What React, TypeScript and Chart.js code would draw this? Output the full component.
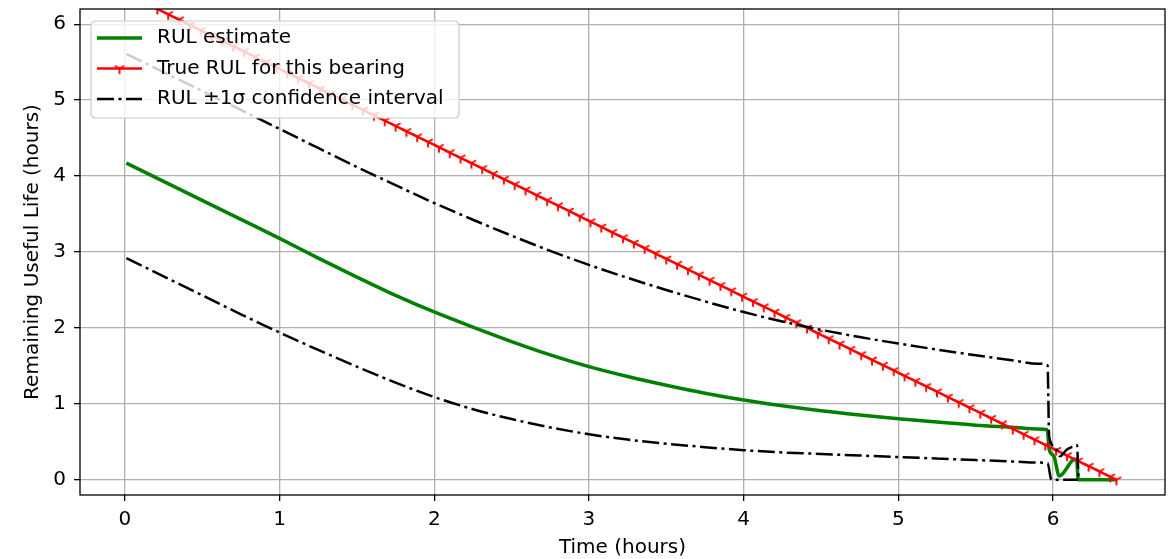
import React, { useEffect, useRef } from 'react';
import { Chart, registerables } from 'chart.js';

Chart.register(...registerables);

// ---------- data ----------
const xTicks = [0, 1, 2, 3, 4, 5, 6];
const yTicks = [0, 1, 2, 3, 4, 5, 6];

const legendLabels = ['RUL estimate', 'True RUL for this bearing', 'RUL \u00b11\u03c3 confidence interval'];
const xTitle = 'Time (hours)';
const yTitle = 'Remaining Useful Life (hours)';

const estTime = [0.01, 0.25, 0.5, 0.75, 1.0, 1.25, 1.5, 1.75, 2.0, 2.25, 2.5, 2.75, 3.0, 3.25, 3.5, 3.75, 4.0, 4.25, 4.5, 4.75, 5.0, 5.25, 5.5, 5.75, 5.9, 5.963, 5.975, 6.006, 6.04, 6.13, 6.153, 6.163, 6.41];
const estRul = [4.17, 3.93, 3.68, 3.43, 3.18, 2.92, 2.67, 2.43, 2.21, 2.01, 1.82, 1.645, 1.49, 1.36, 1.245, 1.14, 1.05, 0.975, 0.91, 0.855, 0.805, 0.76, 0.72, 0.69, 0.67, 0.66, 0.4, 0.31, 0.05, 0.26, 0.27, 0.0, 0.0];

const upperTime = [0.01, 0.25, 0.5, 0.75, 1.0, 1.25, 1.5, 1.75, 2.0, 2.25, 2.5, 2.75, 3.0, 3.25, 3.5, 3.75, 4.0, 4.25, 4.5, 4.75, 5.0, 5.25, 5.5, 5.75, 5.9, 5.965, 5.975, 6.01, 6.045, 6.09, 6.13, 6.155, 6.165];
const upperRul = [5.61, 5.37, 5.12, 4.87, 4.62, 4.37, 4.12, 3.88, 3.645, 3.425, 3.215, 3.015, 2.83, 2.66, 2.5, 2.35, 2.21, 2.085, 1.975, 1.88, 1.795, 1.715, 1.64, 1.57, 1.53, 1.51, 0.57, 0.44, 0.31, 0.4, 0.44, 0.46, 0.0];

const lowerTime = [0.01, 0.25, 0.5, 0.75, 1.0, 1.25, 1.5, 1.75, 2.0, 2.25, 2.5, 2.75, 3.0, 3.25, 3.5, 3.75, 4.0, 4.25, 4.5, 4.75, 5.0, 5.25, 5.5, 5.75, 5.9, 5.965, 5.99, 6.16];
const lowerRul = [2.92, 2.68, 2.43, 2.18, 1.94, 1.71, 1.49, 1.28, 1.09, 0.93, 0.8, 0.69, 0.6, 0.53, 0.475, 0.43, 0.39, 0.36, 0.34, 0.32, 0.3, 0.28, 0.26, 0.24, 0.227, 0.22, 0.0, 0.0];

const trueTime = [
  0.0, 0.07, 0.14, 0.21, 0.28, 0.35, 0.42, 0.49, 0.56, 0.63,
  0.7, 0.77, 0.84, 0.91, 0.98, 1.05, 1.12, 1.19, 1.26, 1.33,
  1.4, 1.47, 1.54, 1.61, 1.68, 1.75, 1.82, 1.89, 1.96, 2.03,
  2.1, 2.17, 2.24, 2.31, 2.38, 2.45, 2.52, 2.59, 2.66, 2.73,
  2.8, 2.87, 2.94, 3.01, 3.08, 3.15, 3.22, 3.29, 3.36, 3.43,
  3.5, 3.57, 3.64, 3.71, 3.78, 3.85, 3.92, 3.99, 4.06, 4.13,
  4.2, 4.27, 4.34, 4.41, 4.48, 4.55, 4.62, 4.69, 4.76, 4.83,
  4.9, 4.97, 5.04, 5.11, 5.18, 5.25, 5.32, 5.39, 5.46, 5.53,
  5.6, 5.67, 5.74, 5.81, 5.88, 5.95, 6.02, 6.09, 6.16, 6.23,
  6.3, 6.37, 6.41,
];
const trueRul = [
  6.41, 6.34, 6.27, 6.2, 6.13, 6.06, 5.99, 5.92, 5.85, 5.78,
  5.71, 5.64, 5.57, 5.5, 5.43, 5.36, 5.29, 5.22, 5.15, 5.08,
  5.01, 4.94, 4.87, 4.8, 4.73, 4.66, 4.59, 4.52, 4.45, 4.38,
  4.31, 4.24, 4.17, 4.1, 4.03, 3.96, 3.89, 3.82, 3.75, 3.68,
  3.61, 3.54, 3.47, 3.4, 3.33, 3.26, 3.19, 3.12, 3.05, 2.98,
  2.91, 2.84, 2.77, 2.7, 2.63, 2.56, 2.49, 2.42, 2.35, 2.28,
  2.21, 2.14, 2.07, 2.0, 1.93, 1.86, 1.79, 1.72, 1.65, 1.58,
  1.51, 1.44, 1.37, 1.3, 1.23, 1.16, 1.09, 1.02, 0.95, 0.88,
  0.81, 0.74, 0.67, 0.6, 0.53, 0.46, 0.39, 0.32, 0.25, 0.18,
  0.11, 0.04, 0.0,
];

// ---------- styles ----------
const FONT = "'DejaVu Sans', 'Liberation Sans', sans-serif";
const GREEN = '#008000';
const RED = '#ff0000';
const BLACK = '#000000';
const DASHDOT = [17, 4.5, 3, 4.5];

function toPoints(xs: number[], ys: number[]) {
  return xs.map((x, i) => ({ x, y: ys[i] }));
}

function makeTriDown(color: string) {
  const c = document.createElement('canvas');
  c.width = 16;
  c.height = 16;
  const g = c.getContext('2d')!;
  const cx = 8, cy = 8, r = 5.5;
  g.strokeStyle = color;
  g.lineWidth = 1.9;
  g.lineCap = 'butt';
  g.beginPath();
  g.moveTo(cx, cy); g.lineTo(cx, cy + r);
  g.moveTo(cx, cy); g.lineTo(cx + r * 0.866, cy - r * 0.5);
  g.moveTo(cx, cy); g.lineTo(cx - r * 0.866, cy - r * 0.5);
  g.stroke();
  return c;
}

export default function App() {
  const ref = useRef<HTMLCanvasElement | null>(null);

  useEffect(() => {
    if (!ref.current) return;
    const marker = makeTriDown(RED);

    const framePlugin = {
      id: 'frame',
      afterDatasetsDraw(chart: any) {
        const { ctx, chartArea: a } = chart;
        ctx.save();
        ctx.strokeStyle = BLACK;
        ctx.lineWidth = 1.3;
        ctx.strokeRect(a.left, a.top, a.right - a.left, a.bottom - a.top);
        ctx.restore();
      },
    };

    const legendPlugin = {
      id: 'mplLegend',
      afterDraw(chart: any) {
        const ctx: CanvasRenderingContext2D = chart.ctx;
        const bx = 91, by = 21, bw = 368, bh = 97, r = 5;
        ctx.save();
        ctx.beginPath();
        ctx.moveTo(bx + r, by);
        ctx.lineTo(bx + bw - r, by);
        ctx.quadraticCurveTo(bx + bw, by, bx + bw, by + r);
        ctx.lineTo(bx + bw, by + bh - r);
        ctx.quadraticCurveTo(bx + bw, by + bh, bx + bw - r, by + bh);
        ctx.lineTo(bx + r, by + bh);
        ctx.quadraticCurveTo(bx, by + bh, bx, by + bh - r);
        ctx.lineTo(bx, by + r);
        ctx.quadraticCurveTo(bx, by, bx + r, by);
        ctx.closePath();
        ctx.fillStyle = 'rgba(255,255,255,0.8)';
        ctx.fill();
        ctx.strokeStyle = '#cccccc';
        ctx.lineWidth = 1.2;
        ctx.stroke();

        const rows = [38, 68.5, 99];
        const hx0 = 97, hx1 = 142;
        ctx.lineCap = 'butt';
        ctx.strokeStyle = GREEN;
        ctx.lineWidth = 3.5;
        ctx.setLineDash([]);
        ctx.beginPath(); ctx.moveTo(hx0, rows[0]); ctx.lineTo(hx1, rows[0]); ctx.stroke();
        ctx.strokeStyle = RED;
        ctx.lineWidth = 2.5;
        ctx.beginPath(); ctx.moveTo(hx0, rows[1]); ctx.lineTo(hx1, rows[1]); ctx.stroke();
        ctx.drawImage(marker, (hx0 + hx1) / 2 - marker.width / 2, rows[1] - marker.height / 2);
        ctx.strokeStyle = BLACK;
        ctx.lineWidth = 2.5;
        ctx.setLineDash(DASHDOT);
        ctx.beginPath(); ctx.moveTo(hx0, rows[2]); ctx.lineTo(hx1, rows[2]); ctx.stroke();
        ctx.setLineDash([]);

        ctx.fillStyle = '#000';
        ctx.font = `20px ${FONT}`;
        ctx.textAlign = 'left';
        ctx.textBaseline = 'alphabetic';
        legendLabels.forEach((t, i) => ctx.fillText(t, 157, rows[i] + 5));
        ctx.restore();
      },
    };

    const chart = new Chart(ref.current, {
      type: 'line',
      data: {
        datasets: [
          {
            label: legendLabels[0],
            data: toPoints(estTime, estRul),
            borderColor: GREEN,
            borderWidth: 3.5,
            pointRadius: 0,
            cubicInterpolationMode: 'monotone',
            borderJoinStyle: 'round',
            order: 3,
            clip: 0,
          },
          {
            label: legendLabels[1],
            data: toPoints(trueTime, trueRul),
            borderColor: RED,
            borderWidth: 2.5,
            pointStyle: marker as any,
            pointRadius: 3,
            pointHoverRadius: 3,
            tension: 0,
            order: 2,
            clip: 0,
          },
          {
            label: legendLabels[2],
            data: toPoints(upperTime, upperRul),
            borderColor: BLACK,
            borderWidth: 2.5,
            borderDash: DASHDOT,
            pointRadius: 0,
            cubicInterpolationMode: 'monotone',
            order: 1,
            clip: 0,
          },
          {
            label: '_lower',
            data: toPoints(lowerTime, lowerRul),
            borderColor: BLACK,
            borderWidth: 2.5,
            borderDash: DASHDOT,
            pointRadius: 0,
            cubicInterpolationMode: 'monotone',
            order: 1,
            clip: 0,
          },
        ],
      } as any,
      options: {
        animation: false,
        responsive: false,
        devicePixelRatio: 1,
        events: [],
        layout: { padding: { left: 0, right: 10, top: 9, bottom: 0 }, autoPadding: false } as any,
        plugins: {
          legend: { display: false },
          tooltip: { enabled: false },
        },
        scales: {
          x: {
            type: 'linear',
            min: -0.29,
            max: 6.724,
            afterBuildTicks: (s: any) => { s.ticks = xTicks.map((v) => ({ value: v })); },
            afterFit: (s: any) => { s.height = 64; s.paddingLeft = 0; s.paddingRight = 0; },
            grid: { color: '#b0b0b0', lineWidth: 1.3, tickColor: BLACK, tickLength: 6, tickWidth: 1.3, drawTicks: true },
            border: { display: false },
            ticks: {
              color: '#000',
              font: { family: FONT, size: 20, lineHeight: 1.2 },
              padding: 7,
              maxRotation: 0,
              autoSkip: false,
              callback: (v: any) => String(v),
            },
            title: {
              display: true,
              text: xTitle,
              color: '#000',
              font: { family: FONT, size: 20, lineHeight: 1.1 },
              padding: { top: 0, bottom: 0 },
            },
          },
          y: {
            type: 'linear',
            min: -0.2,
            max: 6.2,
            afterBuildTicks: (s: any) => { s.ticks = yTicks.map((v) => ({ value: v })); },
            afterFit: (s: any) => { s.width = 80; s.paddingTop = 0; s.paddingBottom = 0; },
            grid: { color: '#b0b0b0', lineWidth: 1.3, tickColor: BLACK, tickLength: 6, tickWidth: 1.3, drawTicks: true },
            border: { display: false },
            ticks: {
              color: '#000',
              font: { family: FONT, size: 20, lineHeight: 1.2 },
              padding: 8,
              autoSkip: false,
              callback: (v: any) => String(v),
            },
            title: {
              display: true,
              text: yTitle,
              color: '#000',
              font: { family: FONT, size: 20, lineHeight: 1.2 },
              padding: { top: 21, bottom: 0 },
            },
          },
        },
      } as any,
      plugins: [framePlugin, legendPlugin],
    });

    return () => chart.destroy();
  }, []);

  return (
    <div style={{ position: 'absolute', left: 0, top: 0, width: 1175, height: 559, background: '#fff', overflow: 'hidden' }}>
      <canvas ref={ref} width={1175} height={559} style={{ display: 'block', width: 1175, height: 559 }} />
    </div>
  );
}
